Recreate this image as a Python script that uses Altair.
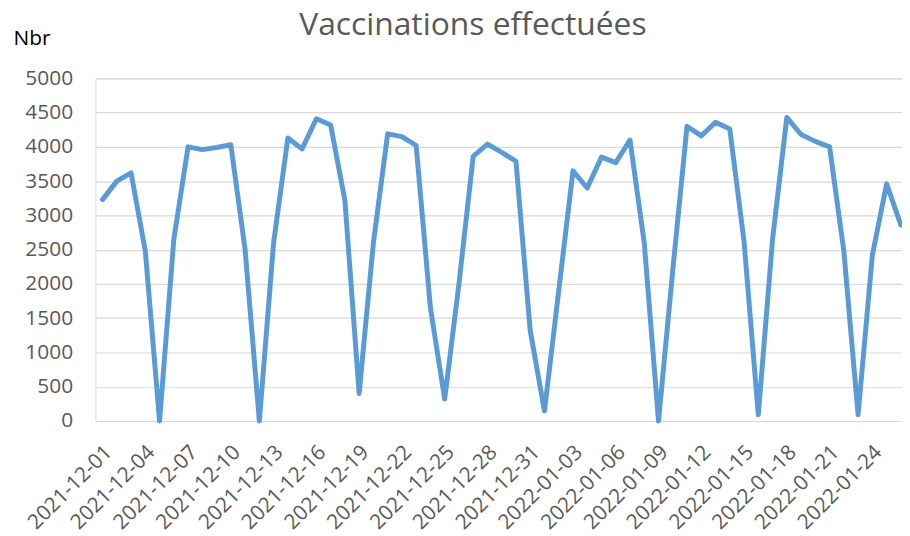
import json
import altair as alt
import pandas as pd

# Daily vaccinations, 2021-12-01 .. 2022-01-26
values = [
    3230, 3500, 3620, 2480, 0, 2650, 4000, 3960, 3990, 4030,
    2500, 0, 2600, 4130, 3970, 4410, 4320, 3220, 400, 2600,
    4190, 4150, 4020, 1650, 320, 2000, 3860, 4040, 3920, 3790,
    1320, 145, 1900, 3650, 3400, 3850, 3770, 4100, 2600, 0,
    2200, 4300, 4160, 4360, 4260, 2620, 90, 2650, 4430, 4180,
    4080, 4000, 2480, 90, 2420, 3460, 2860,
]
dates = [d.strftime("%Y-%m-%d") for d in pd.date_range("2021-12-01", periods=len(values))]
tick_labels = [
    "2021-12-01", "2021-12-04", "2021-12-07", "2021-12-10", "2021-12-13",
    "2021-12-16", "2021-12-19", "2021-12-22", "2021-12-25", "2021-12-28",
    "2021-12-31", "2022-01-03", "2022-01-06", "2022-01-09", "2022-01-12",
    "2022-01-15", "2022-01-18", "2022-01-21", "2022-01-24",
]
y_ticks = [0, 500, 1000, 1500, 2000, 2500, 3000, 3500, 4000, 4500, 5000]
title_text = ["Vaccinations effectuées"]

df = pd.DataFrame({"date": dates, "idx": list(range(len(values))), "value": values})
tick_idx = [dates.index(t) for t in tick_labels]
label_expr = "{}[indexof({}, datum.value)]".format(json.dumps(tick_labels), json.dumps(tick_idx))

FONT = "Open Sans"
GREY = "#595959"

line = alt.Chart(df).mark_line(
    color="#5b9bd5", strokeWidth=5, strokeJoin="round", strokeCap="round"
).encode(
    x=alt.X(
        "idx:Q",
        scale=alt.Scale(domain=[-0.5, 56.08], nice=False, zero=False),
        axis=alt.Axis(
            values=tick_idx, labelExpr=label_expr, title=None, grid=False,
            domain=False, ticks=False, tickSize=0, labelAngle=-45,
            labelAlign="right", labelBaseline="middle", labelPadding=28,
            labelOffset=6, labelFont=FONT, labelFontSize=21, labelColor=GREY,
            labelOverlap=False, labelFlush=False,
        ),
    ),
    y=alt.Y(
        "value:Q",
        scale=alt.Scale(domain=[0, 5000], nice=False),
        axis=alt.Axis(
            values=y_ticks, format="d", title="Nbr", titleAngle=0, titleX=-83,
            titleY=-34, titleAlign="left", titleBaseline="alphabetic",
            titleFont=FONT, titleFontSize=21, titleFontWeight="normal",
            titleColor="#000000", grid=True, gridColor="#d9d9d9", gridWidth=1.2,
            domain=False, ticks=False, tickSize=0, labelPadding=23,
            labelFont=FONT, labelFontSize=21, labelColor=GREY,
            labelBaseline="middle",
        ),
    ),
)

title = alt.Chart(pd.DataFrame({"t": title_text})).mark_text(
    align="center", baseline="alphabetic", font=FONT, fontSize=32, color=GREY
).encode(
    text="t:N", x=alt.value(380), y=alt.value(-44)
)

chart = alt.layer(line, title).properties(
    width=812,
    height=345,
    autosize=alt.AutoSizeParams(type="none"),
    padding={"left": 88, "top": 69, "right": 0, "bottom": 120},
).configure_view(stroke=None).configure(background="white")

chart.save("out.html", embed_options={"renderer": "svg", "actions": False})
